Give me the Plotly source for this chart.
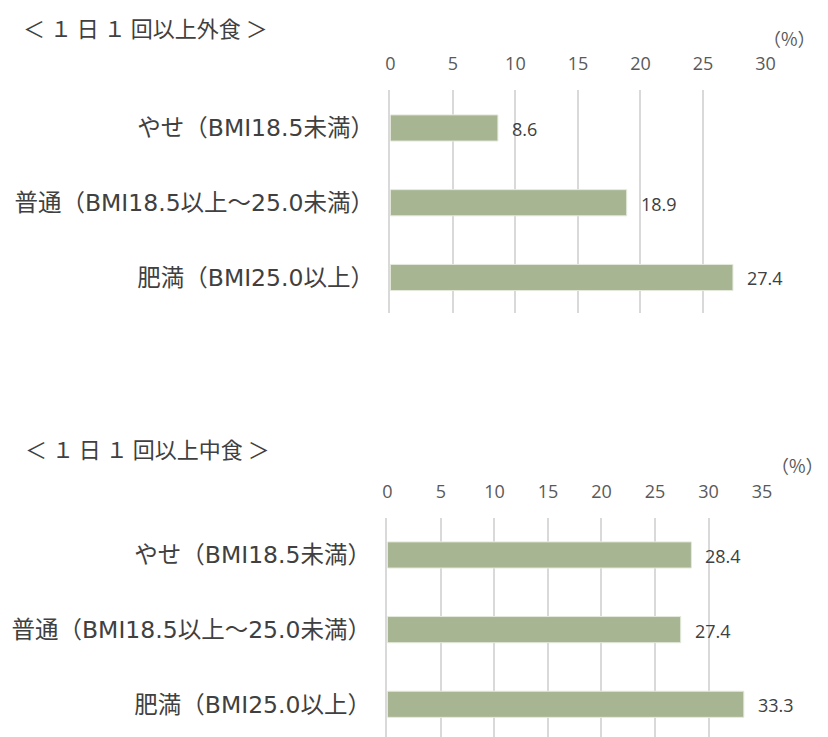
import plotly.graph_objects as go

# BMI categories (top to bottom)
categories = ["やせ（BMI18.5未満）", "普通（BMI18.5以上～25.0未満）", "肥満（BMI25.0以上）"]

# Share eating out at least once a day (%)
eating_out = [8.6, 18.9, 27.4]
# Share eating ready-made meals at least once a day (%)
ready_meals = [28.4, 27.4, 33.3]

out_ticks = [0, 5, 10, 15, 20, 25, 30]
ready_ticks = [0, 5, 10, 15, 20, 25, 30, 35]

title_out = "＜ １ 日 １ 回以上外食 ＞"
title_ready = "＜ １ 日 １ 回以上中食 ＞"
unit_label = "（%）"

BAR = "#A7B593"
GRID = "#D9D9D9"
TEXT = "#404040"
TICK = "#595959"
JP = "Noto Sans CJK JP"
LABEL = "DejaVu Sans, Noto Sans CJK JP"
NUM = "Open Sans"
W, H = 828, 737

fig = go.Figure()

fig.add_trace(go.Bar(
    x=eating_out, y=categories, orientation="h",
    marker=dict(color=BAR, line=dict(color="#E4E9DC", width=1)),
    width=0.35, xaxis="x", yaxis="y", showlegend=False, hoverinfo="x+y",
))
fig.add_trace(go.Bar(
    x=ready_meals, y=categories, orientation="h",
    marker=dict(color=BAR, line=dict(color="#E4E9DC", width=1)),
    width=0.35, xaxis="x2", yaxis="y2", showlegend=False, hoverinfo="x+y",
))

annotations = []
for xa, ya, vals in (("x", "y", eating_out), ("x2", "y2", ready_meals)):
    for cat, v in zip(categories, vals):
        annotations.append(dict(
            x=v, y=cat, xref=xa, yref=ya, text=f"{v:.1f}", showarrow=False,
            xanchor="left", yanchor="middle", xshift=12, yshift=-1,
            font=dict(family=NUM, size=18, color=TEXT),
        ))

annotations += [
    dict(x=16 / W, y=1 - 27 / H, xref="paper", yref="paper", text=title_out,
         showarrow=False, xanchor="left", yanchor="middle",
         font=dict(family=JP, size=22, color=TEXT)),
    dict(x=18 / W, y=1 - 448 / H, xref="paper", yref="paper", text=title_ready,
         showarrow=False, xanchor="left", yanchor="middle",
         font=dict(family=JP, size=22, color=TEXT)),
    dict(x=1, y=1 - 38 / H, xref="paper", yref="paper", text=unit_label,
         showarrow=False, xanchor="right", yanchor="middle",
         font=dict(family=JP, size=18, color=TICK)),
    dict(x=807 / W, y=1 - 465 / H, xref="paper", yref="paper", text=unit_label,
         showarrow=False, xanchor="center", yanchor="middle",
         font=dict(family=JP, size=18, color=TICK)),
]

xcommon = dict(
    side="top", showgrid=True, gridcolor=GRID, gridwidth=1.5,
    zeroline=False, showline=False, ticks="outside", ticklen=12,
    tickcolor="rgba(0,0,0,0)", tickfont=dict(family=NUM, size=18, color=TICK),
    fixedrange=True,
)
ycommon = dict(
    type="category", categoryorder="array", categoryarray=categories,
    showgrid=False, zeroline=False, showline=True, linecolor=GRID, linewidth=1.5,
    ticks="outside", ticklen=10, tickcolor="rgba(0,0,0,0)",
    tickfont=dict(family=LABEL, size=23.5, color=TEXT), fixedrange=True,
)

fig.update_layout(
    width=W, height=H, margin=dict(l=0, r=0, t=0, b=0),
    paper_bgcolor="white", plot_bgcolor="white",
    bargap=0.65,
    xaxis=dict(xcommon, domain=[392.5 / W, 774.5 / W], range=[0, 30],
               tickvals=out_ticks, anchor="y"),
    yaxis=dict(ycommon, domain=[1 - 313 / H, 1 - 90 / H],
               range=[2.475, -0.508], anchor="x"),
    xaxis2=dict(xcommon, domain=[389.5 / W, 771 / W], range=[0, 35],
                tickvals=ready_ticks, anchor="y2"),
    yaxis2=dict(ycommon, domain=[0, 1 - 518 / H],
                range=[2.438, -0.495], anchor="x2"),
    annotations=annotations,
)

fig.write_html("out.html")
